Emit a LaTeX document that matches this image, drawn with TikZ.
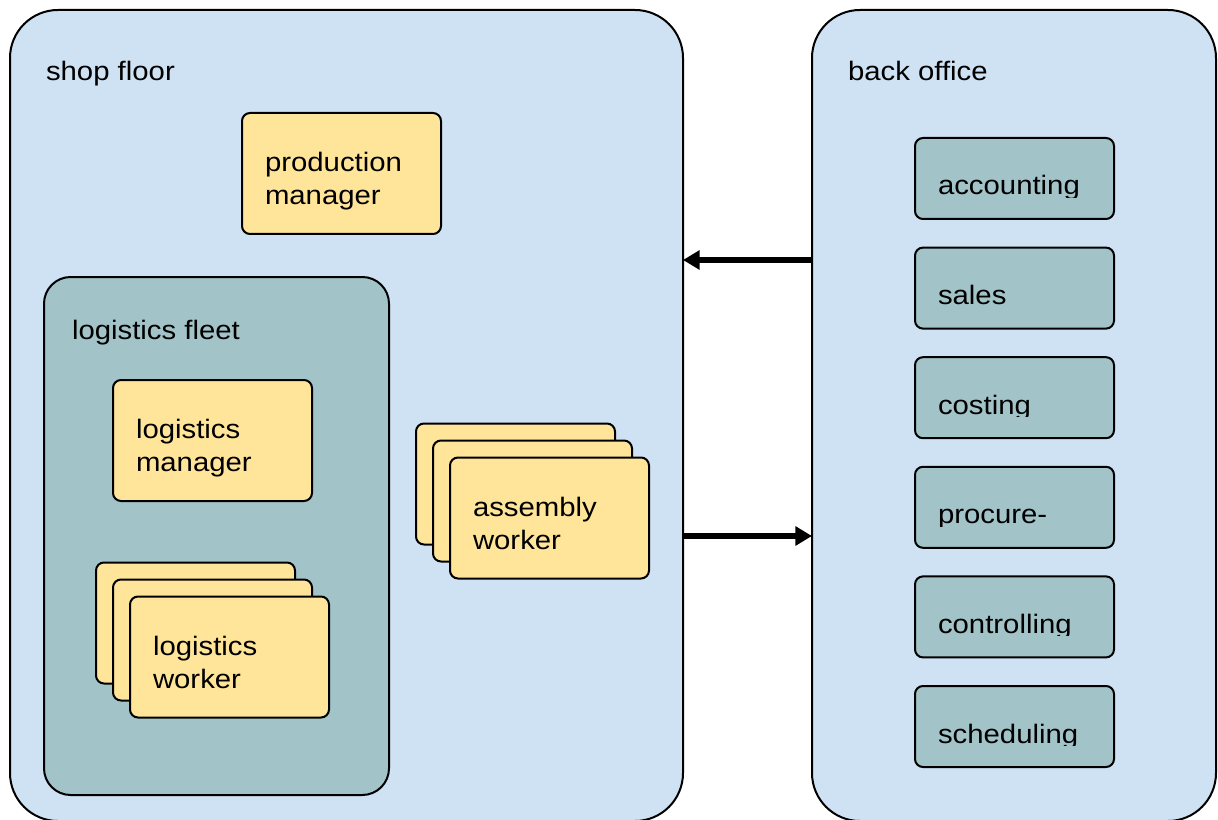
\documentclass[tikz,border=0pt]{standalone}
\usepackage{fontspec}
\setmainfont[FakeStretch=1.1]{Liberation Sans}
\usetikzlibrary{arrows.meta}
\definecolor{lblue}{HTML}{CFE2F3}
\definecolor{lteal}{HTML}{A2C4C9}
\definecolor{lyellow}{HTML}{FFE599}
\begin{document}
\begin{tikzpicture}[x=0.75pt,y=-0.75pt,
  every node/.style={inner sep=0pt, outer sep=0pt},
  region/.style={draw=black, line width=1.5pt, fill=lblue, rounded corners=36pt, rectangle},
  fleet/.style={draw=black, line width=1.5pt, fill=lteal, rounded corners=20pt, rectangle},
  card/.style={draw=black, line width=1.5pt, fill=lyellow, rounded corners=6pt, rectangle, minimum width=149.25pt, minimum height=90.75pt},
  dept/.style={draw=black, line width=1.5pt, fill=lteal, rounded corners=6pt, rectangle, minimum width=149.25pt, minimum height=60.75pt},
  lbl/.style={anchor=base west, font=\fontsize{20}{24.5}\selectfont},
  flow/.style={line width=3.8pt, -{Triangle[length=12.5pt,width=14pt]}}
]
\useasboundingbox (0,0) rectangle (1218,820);
\fill[white] (0,0) rectangle (1218,820);

% regions
\node[region, minimum width=504.75pt, minimum height=608.25pt] (sf) at (346.5,415.5) {};
\node[region, minimum width=303pt, minimum height=608.25pt] (bo) at (1014,415.5) {};
\node[lbl] (sft) at (46,81) {shop floor};
\node[lbl] (bot) at (848,81) {back office};

% production manager
\node[card] (pm) at (341.5,173.5) {};
\node[lbl] (pmt) at (265,171.5) {\begin{tabular}[t]{@{}l@{}}production\\manager\end{tabular}};

% logistics fleet
\node[fleet, minimum width=258.75pt, minimum height=388.5pt] (lf) at (216.5,536) {};
\node[lbl] (lft) at (72,339) {logistics fleet};

\node[card] (lm) at (212.5,440.5) {};
\node[lbl] (lmt) at (136,438.5) {\begin{tabular}[t]{@{}l@{}}logistics\\manager\end{tabular}};

\node[card] (lw3) at (195.5,623) {};
\node[card] (lw2) at (212.5,640) {};
\node[card] (lw1) at (229.5,657) {};
\node[lbl] (lwt) at (153,655.5) {\begin{tabular}[t]{@{}l@{}}logistics\\worker\end{tabular}};

% assembly worker
\node[card] (aw3) at (515.5,484) {};
\node[card] (aw2) at (532.5,501) {};
\node[card] (aw1) at (549.5,518) {};
\node[lbl] (awt) at (473,516.5) {\begin{tabular}[t]{@{}l@{}}assembly\\worker\end{tabular}};

% back office departments
\foreach \i/\nm/\txt in {0/acc/accounting,1/sal/sales,2/cos/costing,3/pro/procure-,4/con/controlling,5/sch/scheduling}{
  \pgfmathsetmacro\tp{138+109.6*\i}
  \node[dept] (\nm) at (1014.5,\tp+40.5) {};
  \begin{scope}
    \clip (915,\tp) rectangle (1114,\tp+59.5);
    \node[lbl] (\nm-t) at (938,\tp+57) {\txt};
  \end{scope}
}

% flows
\coordinate (ya) at (0,260);
\coordinate (yb) at (0,536);
\draw[flow] (bo.west |- ya) -- (sf.east |- ya);
\draw[flow] (sf.east |- yb) -- (bo.west |- yb);
\end{tikzpicture}
\end{document}
